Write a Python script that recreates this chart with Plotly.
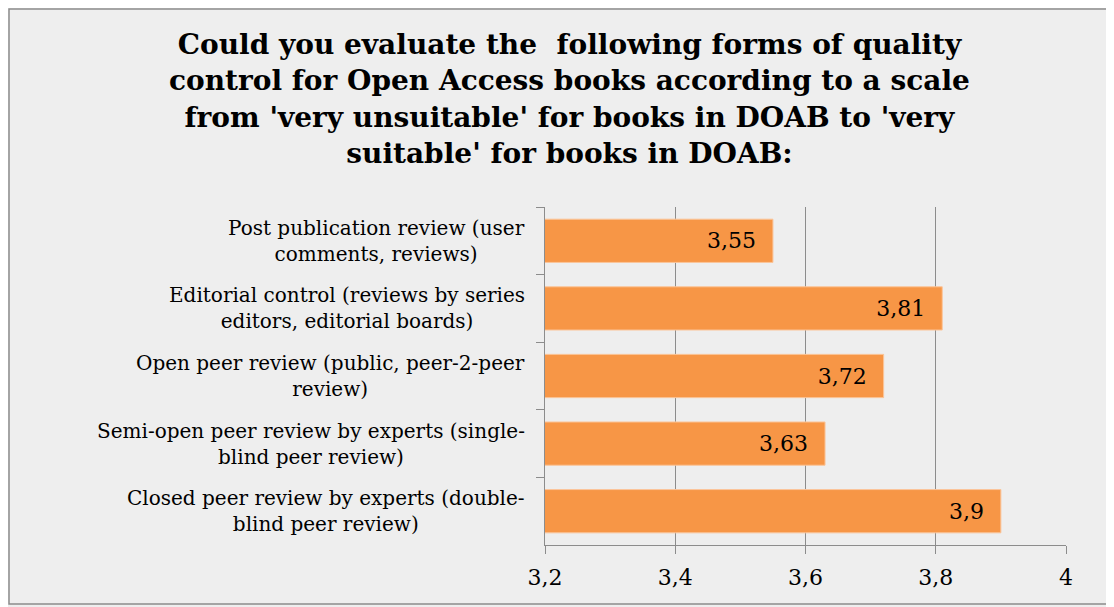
import plotly.graph_objects as go

categories = [
    "Post publication review (user<br>comments, reviews)",
    "Editorial control (reviews by series<br>editors, editorial boards)",
    "Open peer review (public, peer-2-peer<br>review)",
    "Semi-open peer review by experts (single-<br>blind peer review)",
    "Closed peer review by experts (double-<br>blind peer review)",
]
scores = [3.55, 3.81, 3.72, 3.63, 3.9]
tick_vals = [3.2, 3.4, 3.6, 3.8, 4]
tick_text = ["3,2", "3,4", "3,6", "3,8", "4"]

title = ("Could you evaluate the  following forms of quality<br>"
         "control for Open Access books according to a scale<br>"
         "from 'very unsuitable' for books in DOAB to 'very<br>"
         "suitable' for books in DOAB:")

# page body has an 8px margin, so everything is placed 8px up/left
W, H = 1114, 607
ml, mr, mt, mb = 537, 56, 199, 70
pw, ph = W - ml - mr, H - mt - mb

serif = "DejaVu Serif, Liberation Serif, serif"

fig = go.Figure(go.Bar(
    x=scores, y=categories, orientation="h",
    marker=dict(color="#f79646", line=dict(color="#fbc59a", width=1)),
    text=[f"{v:g}".replace(".", ",") + "\u00a0\u00a0" for v in scores],
    textposition="inside", insidetextanchor="end",
    textfont=dict(family=serif, size=22, color="#000000"),
    cliponaxis=False,
))

annots = []
for c in categories:
    annots.append(dict(
        x=0, xref="paper", y=c, yref="y", xanchor="right", yanchor="middle",
        xshift=-18, text=c, showarrow=False, align="center",
        font=dict(family=serif, size=20, color="#000000"),
    ))

# chart title
annots.append(dict(
    x=(561 - ml) / pw, xref="paper", y=1 + (mt - 91) / ph, yref="paper",
    xanchor="center", yanchor="middle", text=title, showarrow=False,
    align="center",
    font=dict(family="DejaVu Serif, serif", size=28,
              color="#000000", weight="bold"),
))

fig.update_layout(
    width=W, height=H,
    margin=dict(l=ml, r=mr, t=mt, b=mb),
    paper_bgcolor="#eeeeee", plot_bgcolor="#eeeeee",
    bargap=0.36, showlegend=False,
    annotations=annots,
    xaxis=dict(range=[3.2, 4], tickvals=tick_vals, ticktext=tick_text,
               showgrid=True, gridcolor="#8c8c8c", gridwidth=1, zeroline=False,
               showline=True, linecolor="#8c8c8c", linewidth=1,
               ticks="outside", ticklen=8, tickcolor="#8c8c8c",
               ticklabelstandoff=5,
               tickfont=dict(family=serif, size=22, color="#000000")),
    yaxis=dict(autorange="reversed", showticklabels=False,
               showline=True, linecolor="#8c8c8c", linewidth=1,
               ticks="outside", ticklen=8, tickcolor="#8c8c8c",
               tickson="boundaries", showgrid=False),
    shapes=[dict(type="rect", xref="paper", yref="paper",
                 x0=-(ml - 1) / pw, x1=1 + (1104 - (W - mr)) / pw,
                 y0=-(596 - (H - mb)) / ph, y1=1 + (mt - 1) / ph,
                 line=dict(color="#8c8c8c", width=1.5))],
)

fig.write_html("out.html")
